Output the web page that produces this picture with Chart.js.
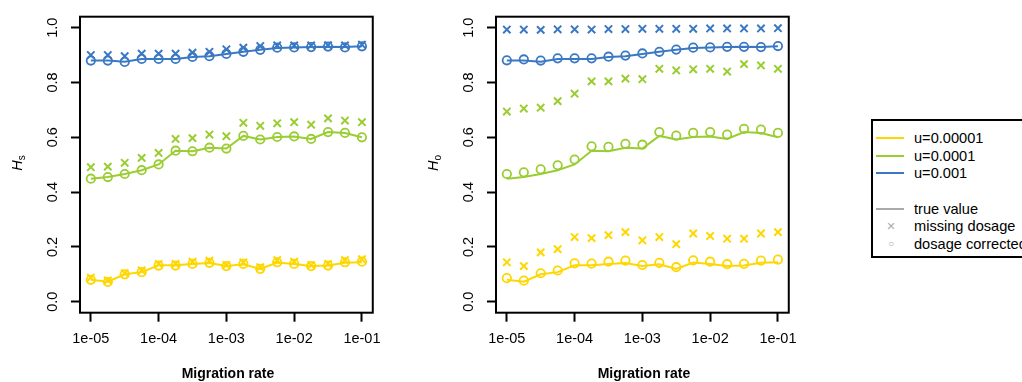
<!DOCTYPE html>
<html>
<head>
<meta charset="utf-8">
<script src="https://cdn.jsdelivr.net/npm/chart.js@4/dist/chart.umd.min.js"></script>
<style>
  html, body { margin:0; padding:0; background:#fff; }
  body { width:1022px; height:382px; position:relative; overflow:hidden; font-family:"Liberation Sans", Arial, Helvetica, sans-serif; }
  canvas { position:absolute; top:0; }
  .ytitle { position:absolute; font-size:14.5px; white-space:nowrap; transform:translate(-50%,-50%) rotate(-90deg); line-height:1; }
  .ytitle i { font-style:italic; }
  .ytitle sub { font-size:10px; vertical-align:-3px; }
  .xtitle { position:absolute; font-size:14px; font-weight:bold; transform:translate(-50%,-50%); white-space:nowrap; line-height:1; }
  #legend { position:absolute; left:871px; top:119px; width:170px; height:139px; border:2px solid #000; box-sizing:border-box; font-size:14.6px; }
  .li { position:absolute; left:0; height:16px; line-height:16px; white-space:nowrap; }
  .li .sw { position:absolute; left:3px; top:7px; width:28px; height:2px; }
  .li .mk { position:absolute; left:10px; top:0; width:16px; text-align:center; color:#aaa; }
  .li span.t { position:absolute; left:41px; top:0; }
</style>
</head>
<body>
<canvas id="c1" width="390" height="382" style="left:0px"></canvas>
<canvas id="c2" width="390" height="382" style="left:416px"></canvas>
<div class="ytitle" style="left:18px; top:163px"><i>H</i><sub>s</sub></div>
<div class="ytitle" style="left:434px; top:163px"><i>H</i><sub>o</sub></div>
<div class="xtitle" style="left:228px; top:373px">Migration rate</div>
<div class="xtitle" style="left:644px; top:373px">Migration rate</div>
<div id="legend"></div>
<script>
// ---- data ----
const migration = [1e-5, 1.78e-5, 3.16e-5, 5.62e-5, 1e-4, 1.78e-4, 3.16e-4, 5.62e-4, 1e-3, 1.78e-3, 3.16e-3, 5.62e-3, 1e-2, 1.78e-2, 3.16e-2, 5.62e-2, 1e-1];
const xTickValues = [1e-5, 1e-4, 1e-3, 1e-2, 1e-1];
const xTickLabels = ["1e-05", "1e-04", "1e-03", "1e-02", "1e-01"];
const yTickValues = [0, 0.2, 0.4, 0.6, 0.8, 1.0];
const yTickLabels = ["0.0", "0.2", "0.4", "0.6", "0.8", "1.0"];
const seriesNames = ["u=0.00001", "u=0.0001", "u=0.001"];

// true values (lines)
const trueU5 = [0.080,0.073,0.100,0.108,0.133,0.133,0.138,0.141,0.130,0.137,0.120,0.143,0.138,0.130,0.132,0.142,0.144];
const trueU4 = [0.449,0.455,0.466,0.480,0.501,0.551,0.549,0.562,0.559,0.605,0.592,0.601,0.603,0.594,0.619,0.616,0.600];
const trueU3 = [0.880,0.880,0.876,0.886,0.886,0.886,0.893,0.896,0.904,0.912,0.919,0.926,0.928,0.929,0.930,0.929,0.932];

// Hs panel
const hsCorU5 = [0.080,0.072,0.100,0.108,0.132,0.132,0.138,0.142,0.130,0.138,0.120,0.144,0.138,0.130,0.132,0.144,0.146];
const hsCorU4 = [0.449,0.455,0.466,0.480,0.501,0.551,0.549,0.562,0.559,0.605,0.592,0.601,0.603,0.594,0.619,0.616,0.600];
const hsCorU3 = [0.880,0.880,0.875,0.886,0.886,0.886,0.893,0.896,0.904,0.912,0.919,0.927,0.928,0.929,0.931,0.928,0.932];
const hsMisU5 = [0.088,0.078,0.104,0.114,0.138,0.138,0.146,0.150,0.134,0.144,0.126,0.152,0.146,0.134,0.138,0.152,0.155];
const hsMisU4 = [0.491,0.493,0.507,0.525,0.543,0.594,0.597,0.610,0.604,0.653,0.642,0.651,0.655,0.646,0.669,0.661,0.655];
const hsMisU3 = [0.900,0.900,0.896,0.905,0.905,0.905,0.909,0.912,0.921,0.927,0.933,0.935,0.935,0.935,0.936,0.935,0.938];

// Ho panel
const hoCorU5 = [0.086,0.077,0.104,0.114,0.140,0.139,0.146,0.150,0.134,0.142,0.126,0.151,0.146,0.137,0.138,0.150,0.154];
const hoCorU4 = [0.466,0.472,0.483,0.498,0.519,0.567,0.565,0.576,0.573,0.619,0.606,0.616,0.619,0.610,0.631,0.628,0.616];
const hoCorU3 = [0.881,0.884,0.880,0.888,0.888,0.888,0.894,0.898,0.906,0.912,0.920,0.927,0.928,0.930,0.930,0.929,0.933];
const hoMisU5 = [0.144,0.130,0.180,0.192,0.236,0.232,0.243,0.254,0.224,0.236,0.210,0.249,0.240,0.230,0.230,0.249,0.254];
const hoMisU4 = [0.694,0.705,0.708,0.732,0.759,0.804,0.804,0.814,0.812,0.850,0.844,0.848,0.850,0.840,0.867,0.862,0.850];
const hoMisU3 = [0.993,0.993,0.992,0.994,0.994,0.993,0.995,0.995,0.996,0.996,0.996,0.996,0.997,0.997,0.997,0.997,0.998];

const colors = ["#FFD700", "#9ACD32", "#3A78C4"];
const legendGray = "#aaaaaa";

// ---- helpers ----
const pts = arr => arr.map((v, i) => ({x: migration[i], y: v}));

function buildDatasets(trues, cors, miss) {
  const ds = [];
  for (let k = 0; k < 3; k++) {
    ds.push({ label: seriesNames[k] + " true", data: pts(trues[k]), borderColor: colors[k], borderWidth: 2,
      pointRadius: 0, showLine: true, fill: false, tension: 0 });
    ds.push({ label: seriesNames[k] + " missing", data: pts(miss[k]), borderColor: colors[k], backgroundColor: colors[k],
      showLine: false, pointStyle: 'crossRot', pointRadius: 5.2, pointBorderWidth: 2, pointHoverRadius: 5.2 });
    ds.push({ label: seriesNames[k] + " corrected", data: pts(cors[k]), borderColor: colors[k], backgroundColor: 'rgba(0,0,0,0)',
      showLine: false, pointStyle: 'circle', pointRadius: 4.2, pointBorderWidth: 1.8, pointHoverRadius: 4.2 });
  }
  return ds;
}

const boxPlugin = {
  id: 'box',
  afterDraw(chart) {
    const {ctx, chartArea: a} = chart;
    ctx.save();
    ctx.strokeStyle = '#000';
    ctx.lineWidth = 2;
    ctx.strokeRect(a.left, a.top, a.right - a.left, a.bottom - a.top);
    ctx.restore();
  }
};

function makeChart(id, datasets) {
  return new Chart(document.getElementById(id), {
    type: 'scatter',
    data: { datasets },
    plugins: [boxPlugin],
    options: {
      responsive: false,
      animation: false,
      devicePixelRatio: 1,
      layout: { padding: { top: 13, right: 14.3, left: 0, bottom: 0 } },
      plugins: { legend: { display: false }, tooltip: { enabled: false } },
      scales: {
        x: {
          type: 'logarithmic',
          min: Math.pow(10, -5.16),
          max: Math.pow(10, -0.84),
          afterBuildTicks: s => { s.ticks = xTickValues.map(v => ({ value: v })); },
          afterFit: s => { s.height = 69.3; },
          ticks: {
            autoSkip: false, maxRotation: 0, minRotation: 0, padding: 9, color: '#000',
            font: { family: '"Liberation Sans", Arial, sans-serif', size: 14.5 },
            callback: (v) => { const i = xTickValues.findIndex(t => Math.abs(Math.log10(t) - Math.log10(v)) < 1e-6); return i >= 0 ? xTickLabels[i] : ''; }
          },
          grid: { drawOnChartArea: false, drawTicks: true, tickLength: 9, tickWidth: 2, tickColor: '#000' },
          border: { display: false }
        },
        y: {
          type: 'linear',
          min: -0.04, max: 1.04,
          afterBuildTicks: s => { s.ticks = yTickValues.map(v => ({ value: v })); },
          afterFit: s => { s.width = 80; },
          ticks: {
            autoSkip: false, minRotation: 90, maxRotation: 90, crossAlign: 'center', padding: 8, color: '#000',
            font: { family: '"Liberation Sans", Arial, sans-serif', size: 14.5 },
            callback: (v) => { const i = yTickValues.findIndex(t => Math.abs(t - v) < 1e-9); return i >= 0 ? yTickLabels[i] : ''; }
          },
          grid: { drawOnChartArea: false, drawTicks: true, tickLength: 9, tickWidth: 2, tickColor: '#000' },
          border: { display: false }
        }
      }
    }
  });
}

makeChart('c1', buildDatasets([trueU5, trueU4, trueU3], [hsCorU5, hsCorU4, hsCorU3], [hsMisU5, hsMisU4, hsMisU3]));
makeChart('c2', buildDatasets([trueU5, trueU4, trueU3], [hoCorU5, hoCorU4, hoCorU3], [hoMisU5, hoMisU4, hoMisU3]));

// ---- legend ----
const leg = document.getElementById('legend');
const rows = [
  { top: 9, type: 'line', color: colors[0], text: seriesNames[0] },
  { top: 26.5, type: 'line', color: colors[1], text: seriesNames[1] },
  { top: 44, type: 'line', color: colors[2], text: seriesNames[2] },
  { top: 79.5, type: 'line', color: legendGray, text: 'true value' },
  { top: 97, type: 'mk', mark: '\u00D7', text: 'missing dosage' },
  { top: 114.5, type: 'mk', mark: '\u25CB', text: 'dosage corrected' }
];
rows.forEach(r => {
  const d = document.createElement('div');
  d.className = 'li';
  d.style.top = r.top + 'px';
  d.style.width = '200px';
  if (r.type === 'line') {
    const s = document.createElement('div'); s.className = 'sw'; s.style.background = r.color; d.appendChild(s);
  } else {
    const m = document.createElement('span'); m.className = 'mk'; m.textContent = r.mark;
    if (r.mark === '\u25CB') { m.style.fontSize = '10px'; }
    d.appendChild(m);
  }
  const t = document.createElement('span'); t.className = 't'; t.textContent = r.text; d.appendChild(t);
  leg.appendChild(d);
});
</script>
</body>
</html>
